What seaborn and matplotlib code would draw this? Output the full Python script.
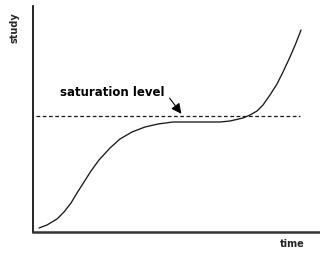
import matplotlib
matplotlib.use("Agg")
import matplotlib.pyplot as plt
import seaborn as sns
import pandas as pd

# Curve values (time, study)
time_vals = [6, 14, 24, 31, 38, 44, 51, 58, 66, 77, 87, 99, 112, 125, 140,
             167, 187, 197, 210, 217, 224, 230, 237, 244, 250, 257, 263, 268]
study_vals = [4, 7, 13, 20, 29, 39, 50, 61, 72, 84, 93, 100, 105, 108, 110,
              110, 110, 111, 114, 117, 121, 127, 137, 148, 160, 175, 189, 202]
saturation_level = 116
saturation_span = [3, 267]

x_label = "time"
y_label = "study"
annot_text = "saturation level"

sns.set_theme(style="white")
plt.rcParams['font.family'] = ['DejaVu Sans']

fig = plt.figure(figsize=(3.2, 2.7), dpi=100)
ax = fig.add_axes([33/320, 38/270, 287/320, 226/270])

df = pd.DataFrame({"time": time_vals, "study": study_vals})
sns.lineplot(data=df, x="time", y="study", ax=ax, color="#1a1a1a",
             linewidth=0.95, sort=False, estimator=None)

sat = pd.DataFrame({"time": saturation_span,
                    "study": [saturation_level] * len(saturation_span)})
sns.lineplot(data=sat, x="time", y="study", ax=ax, color="#1a1a1a",
             linewidth=0.9, linestyle=(0, (3, 2)), estimator=None)

ax.set_xlim(0, 287)
ax.set_ylim(0, 226)
ax.set_xticks([])
ax.set_yticks([])
ax.set_xlabel("")
ax.set_ylabel("")
for s in ["top", "right"]:
    ax.spines[s].set_visible(False)
ax.spines["left"].set_color("black")
ax.spines["left"].set_linewidth(1.2)
ax.spines["bottom"].set_color("#333333")
ax.spines["bottom"].set_linewidth(1.8)

ax.text(27, 140, annot_text, ha="left", va="center", fontsize=8.5,
        fontweight="bold", color="black")
ax.annotate("", xy=(150, 116), xytext=(135, 136),
            arrowprops=dict(arrowstyle="-|>", color="black", lw=0.8,
                            mutation_scale=15))

fig.text(15/320, 1 - 28/270, y_label, rotation=90, ha="center", va="center",
         fontsize=7, fontweight="bold")
fig.text(292/320, 1 - 244/270, x_label, ha="center", va="center",
         fontsize=7, fontweight="bold")

fig.savefig("out.png", dpi=100, facecolor="white")
